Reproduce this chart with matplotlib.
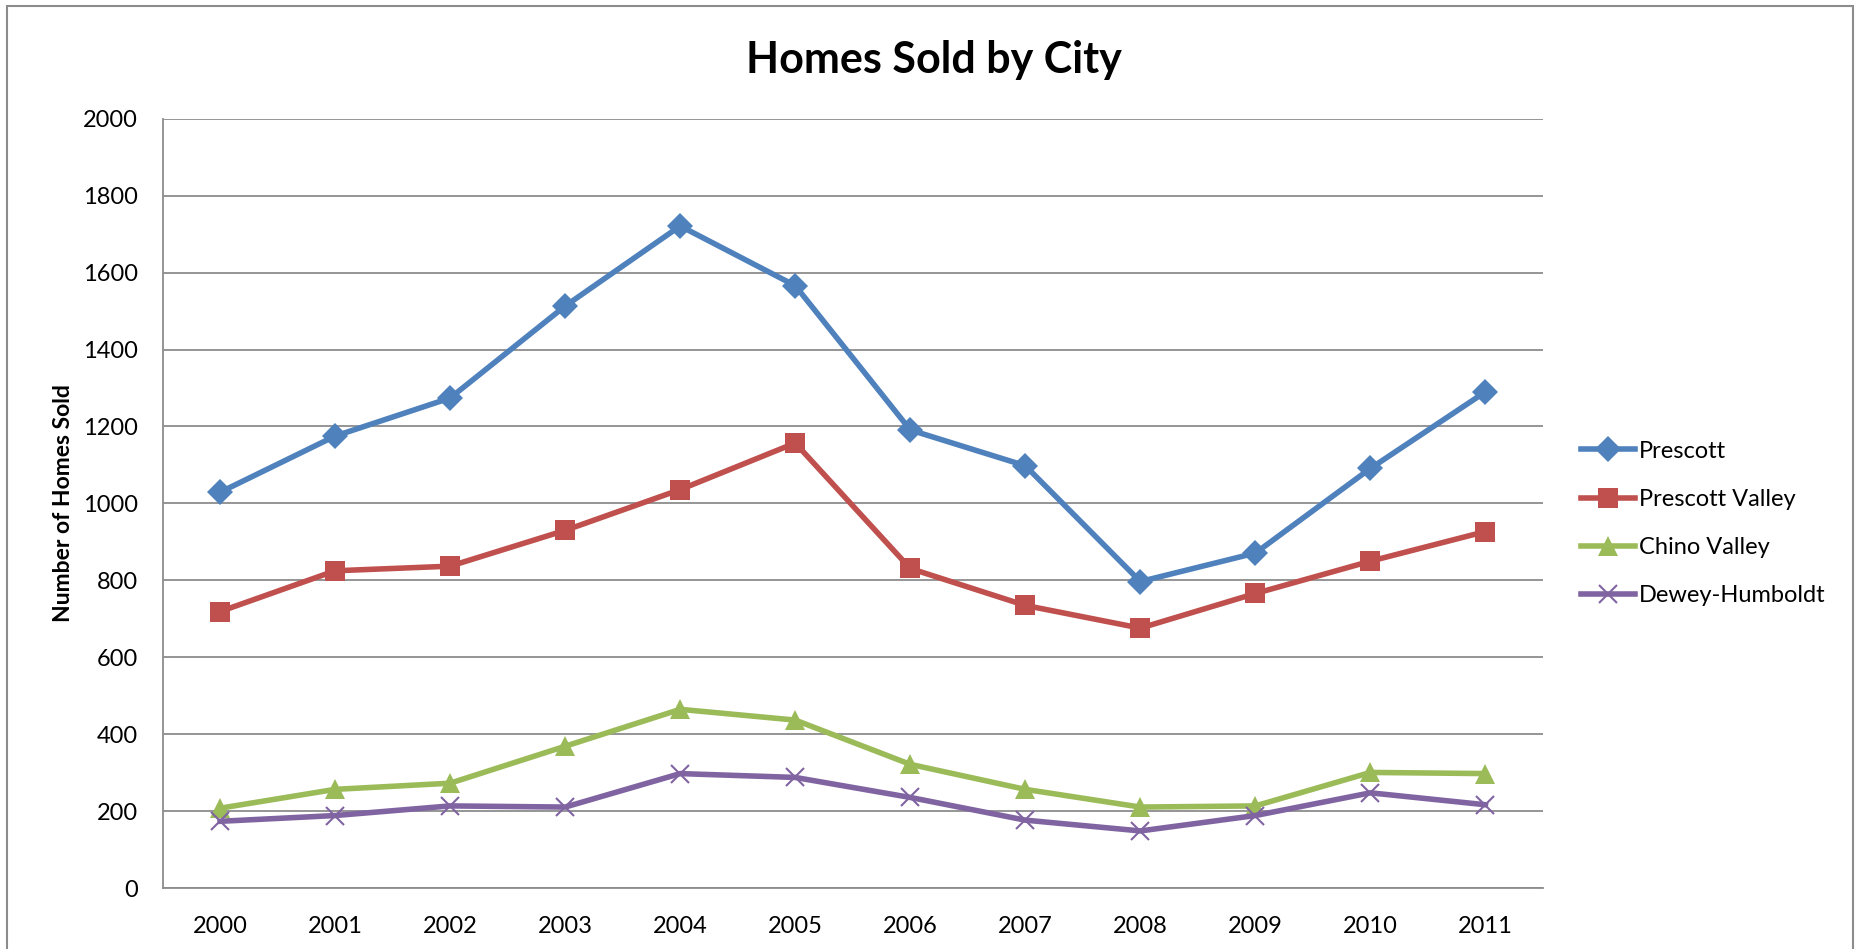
import matplotlib.pyplot as plt
from matplotlib.patches import Rectangle

plt.rcParams['font.family'] = ['Lato', 'DejaVu Sans']

# Data
years = ['2000', '2001', '2002', '2003', '2004', '2005',
         '2006', '2007', '2008', '2009', '2010', '2011']
prescott = [1029, 1175, 1274, 1513, 1721, 1566, 1191, 1098, 797, 871, 1091, 1290]
prescott_valley = [719, 825, 837, 930, 1036, 1157, 831, 735, 676, 766, 850, 927]
chino_valley = [208, 257, 273, 369, 465, 437, 322, 257, 211, 214, 301, 298]
dewey_humboldt = [174, 189, 214, 211, 298, 288, 236, 177, 149, 189, 248, 217]

series = [
    ('Prescott', prescott, '#4F81BD', 'D', 13),
    ('Prescott Valley', prescott_valley, '#C0504D', 's', 14),
    ('Chino Valley', chino_valley, '#9BBB59', '^', 15),
    ('Dewey-Humboldt', dewey_humboldt, '#8064A2', 'x', 13),
]

fig = plt.figure(figsize=(18.68, 9.49), dpi=100)
ax = fig.add_axes([0.087, 0.064, 0.739, 0.811])

x = list(range(len(years)))
for name, vals, color, marker, ms in series:
    if marker == 'x':
        ax.plot(x, vals, color=color, linewidth=4, marker=marker,
                markersize=ms, markeredgewidth=1.5, label=name)
    else:
        ax.plot(x, vals, color=color, linewidth=4, marker=marker,
                markersize=ms, markeredgewidth=0, label=name)

ax.set_xlim(-0.5, len(years) - 0.5)
ax.set_ylim(0, 2000)
ax.set_yticks(range(0, 2001, 200))
ax.set_xticks(x)
ax.set_xticklabels(years)
ax.grid(axis='y', color='#8C8C8C', linewidth=1.3)
ax.set_axisbelow(True)
for side in ['top', 'right']:
    ax.spines[side].set_visible(False)
for side in ['left', 'bottom']:
    ax.spines[side].set_color('#8C8C8C')
    ax.spines[side].set_linewidth(1.3)
ax.tick_params(axis='both', length=0, labelsize=17)
ax.tick_params(axis='y', pad=18)
ax.tick_params(axis='x', pad=20)

ax.set_ylabel('Number of Homes Sold', fontsize=16.5, fontweight='bold', labelpad=6)
fig.text(0.5, 0.937, 'Homes Sold by City', fontsize=31, fontweight='bold',
         ha='center', va='center')

ax.legend(loc='center left', bbox_to_anchor=(1.012, 0.474), frameon=False,
          fontsize=17, handlelength=2.3, labelspacing=1.15, handletextpad=0.15)

# thin frame around the chart area
fig.patches.append(Rectangle((0.004, -0.02), 0.988, 1.014, transform=fig.transFigure,
                             fill=False, edgecolor='#8C8C8C', linewidth=1.5))

fig.savefig('out.png', dpi=100)
